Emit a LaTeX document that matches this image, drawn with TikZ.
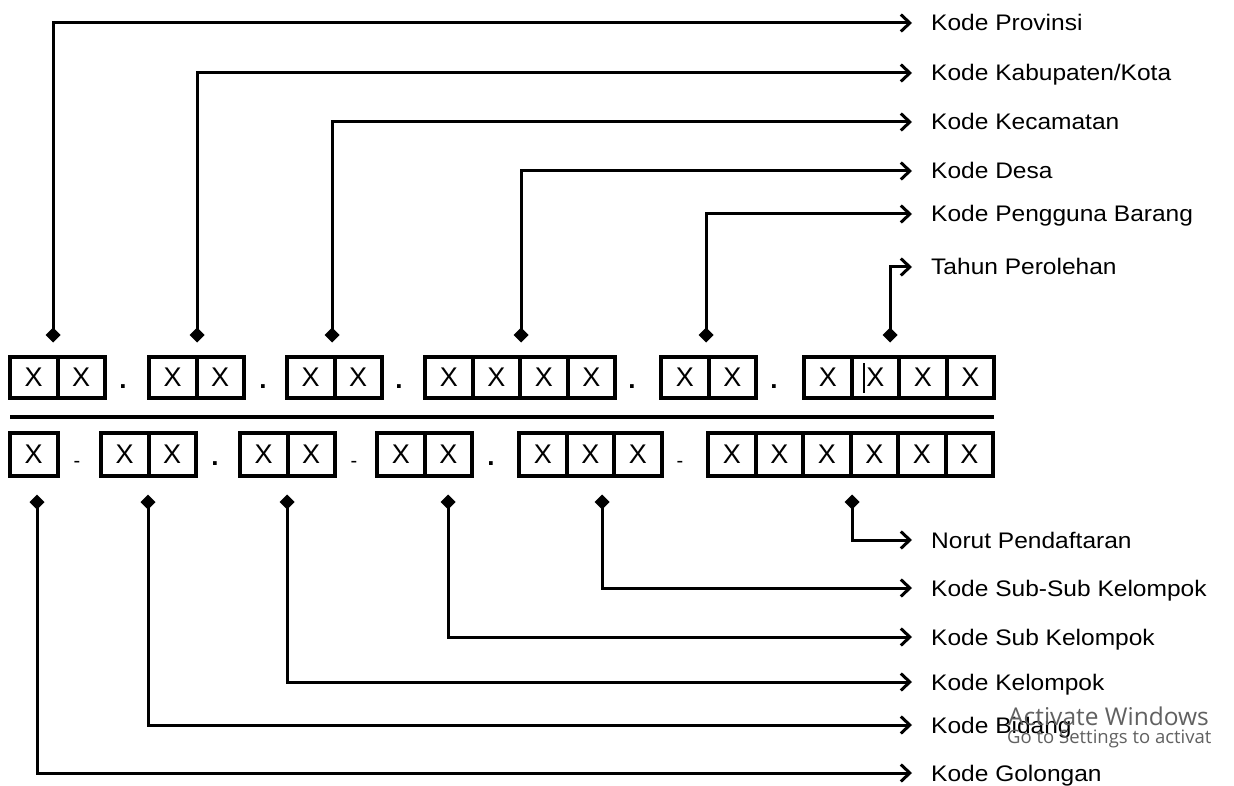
\documentclass[tikz,border=0pt]{standalone}
\usepackage{fontspec}
\setmainfont{Liberation Sans}
\newfontfamily\labfont[FakeStretch=1.09]{Liberation Sans}
\newfontfamily\xfont{Liberation Sans}
\newfontfamily\wmfont{Open Sans}
\usetikzlibrary{arrows.meta}
\begin{document}
\begin{tikzpicture}[x=1pt,y=-1pt,
  cell/.style={draw,line width=4pt,minimum width=47.5pt,inner sep=0pt,
    font=\xfont\fontsize{27}{27}\selectfont},
  topcell/.style={cell,minimum height=41pt},
  botcell/.style={cell,minimum height=43pt},
  conn/.style={line width=3pt,
    {Diamond[length=15pt,width=15pt]}-{Straight Barb[length=9pt,width=17pt]}},
  lab/.style={anchor=west,inner sep=0pt,text height=16pt,text depth=0pt,
    font=\labfont\fontsize{22.5}{24}\selectfont},
  sepdot/.style={inner sep=0pt,font=\xfont\bfseries\fontsize{26}{26}\selectfont},
  sepdash/.style={inner sep=0pt,font=\xfont\fontsize{20}{20}\selectfont},
  wm/.style={anchor=base west,inner sep=0pt,text=black!62}]
\useasboundingbox[fill=white] (0,0) rectangle (1234,786);

% top row of cells
\foreach \g/\x/\n in {1/10/2, 2/149/2, 3/287/2, 4/425/4, 5/661/2, 6/804/4}{
  \foreach \i in {1,...,\n}{
    \node[topcell] (t\g-\i) at ({\x+(\i-0.5)*47.5},377.5) {X};
  }
}
% bottom row of cells
\foreach \g/\x/\n in {1/10/1, 2/101/2, 3/240/2, 4/377/2, 5/519/3, 6/708/6}{
  \foreach \i in {1,...,\n}{
    \node[botcell] (b\g-\i) at ({\x+(\i-0.5)*47.5},454.5) {X};
  }
}
% cursor mark in the last top group
\draw[line width=1.5pt] (864,363) -- (864,393);

% separators
\foreach \x [count=\k] in {123,263,399,632,774}
  \node[sepdot] (ts\k) at (\x,387) {.};
\node[sepdash] (bs1) at (77,464) {-};
\node[sepdot]  (bs2) at (215,464) {.};
\node[sepdash] (bs3) at (354,464) {-};
\node[sepdot]  (bs4) at (491,464) {.};
\node[sepdash] (bs5) at (680,464) {-};

% dividing line
\draw[line width=3.5pt] (10,417) -- (994,417);

% top labels and connectors
\foreach \k/\x/\y/\t in {1/53/23/{Kode Provinsi}, 2/197/73/{Kode Kabupaten/Kota},
    3/332/122/{Kode Kecamatan}, 4/521/171/{Kode Desa},
    5/706/214/{Kode Pengguna Barang}, 6/890/267/{Tahun Perolehan}}{
  \coordinate (p\k) at (\x,342.5);
  \node[lab] (L\k) at (931,\y) {\t};
  \draw[conn] (p\k) |- ([xshift=-19pt]L\k.west);
}

% bottom labels and connectors
\foreach \k/\x/\y/\t in {1/37/773/{Kode Golongan}, 2/148/725/{Kode Bidang},
    3/287/682/{Kode Kelompok}, 4/448/637/{Kode Sub Kelompok},
    5/602/588/{Kode Sub-Sub Kelompok}, 6/852/540/{Norut Pendaftaran}}{
  \coordinate (q\k) at (\x,494.5);
  \node[lab] (M\k) at (931,\y) {\t};
  \draw[conn] (q\k) |- ([xshift=-19pt]M\k.west);
}

% watermark (as shown in the reference)
\node[wm,font=\wmfont\fontsize{24.5}{25}\selectfont] (wm1) at (1008,725) {Activate Windows};
\node[wm,font=\wmfont\fontsize{18.5}{19}\selectfont] (wm2) at (1007,743) {Go to Settings to activat};
\end{tikzpicture}
\end{document}
